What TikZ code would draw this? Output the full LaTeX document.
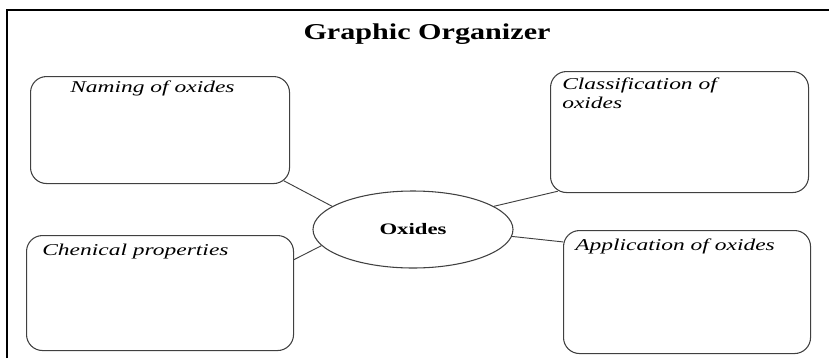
\documentclass[tikz,border=0pt]{standalone}
\usepackage{fontspec}
\usepackage{graphicx}
\setmainfont{Liberation Serif}
\usetikzlibrary{shapes.geometric,positioning}

\newcommand{\stretched}[1]{\scalebox{1.42}[1]{#1}}

\tikzset{
	topic/.style={draw=black!75, line width=0.8pt, rounded corners=12pt, anchor=north west, inner sep=0pt},
	topic text/.style={anchor=base west, inner sep=0pt, align=left, font=\fontsize{12.4}{13}\selectfont\itshape},
	hub/.style={draw=black!75, line width=0.8pt, ellipse, inner sep=0pt, minimum width=150pt, minimum height=57.75pt, font=\fontsize{12}{14}\selectfont\bfseries},
	link/.style={draw=black!75, line width=0.7pt},
}

\begin{document}
\begin{tikzpicture}[x=0.75pt, y=-0.75pt]
				\useasboundingbox (0,0) rectangle (829,358);
				\draw[line width=2.2pt] (7,358) -- (7,10) -- (829,10);
				\node[anchor=base, inner sep=0pt, font=\fontsize{17}{20}\selectfont\bfseries] (heading) at (427,39) {\scalebox{1.33}[1]{Graphic Organizer}};
				\node[hub] (oxides) at (413,229.5) {\stretched{Oxides}};
				\node[topic, minimum width=194.25pt, minimum height=80.25pt] (naming) at (30,76) {};
				\node[topic, minimum width=193.5pt, minimum height=90.75pt] (classif) at (550,71) {};
				\node[topic, minimum width=200.25pt, minimum height=86.25pt] (chemical) at (26,235) {};
				\node[topic, minimum width=185.25pt, minimum height=92.25pt] (applic) at (563,230) {};
				\node[topic text] (namingtext) at (70,92) {\stretched{Naming of oxides}};
				\node[topic text] (classiftext) at (562,108) {\stretched{Classification of}\\[0.6pt]\stretched{oxides}};
				\node[topic text] (chemicaltext) at (42,255) {\stretched{Chenical properties}};
				\node[topic text] (applictext) at (575,250) {\stretched{Application of oxides}};
				\draw[link, shorten >=-5.25pt] (oxides.164) -- (naming.south east);
				\draw[link, shorten >=-6pt] (oxides.16) -- (classif.south west);
				\draw[link] (oxides.190) -- (chemical.14);
				\draw[link] (oxides.-4) -- (applic.158);
			\end{tikzpicture}
\end{document}
